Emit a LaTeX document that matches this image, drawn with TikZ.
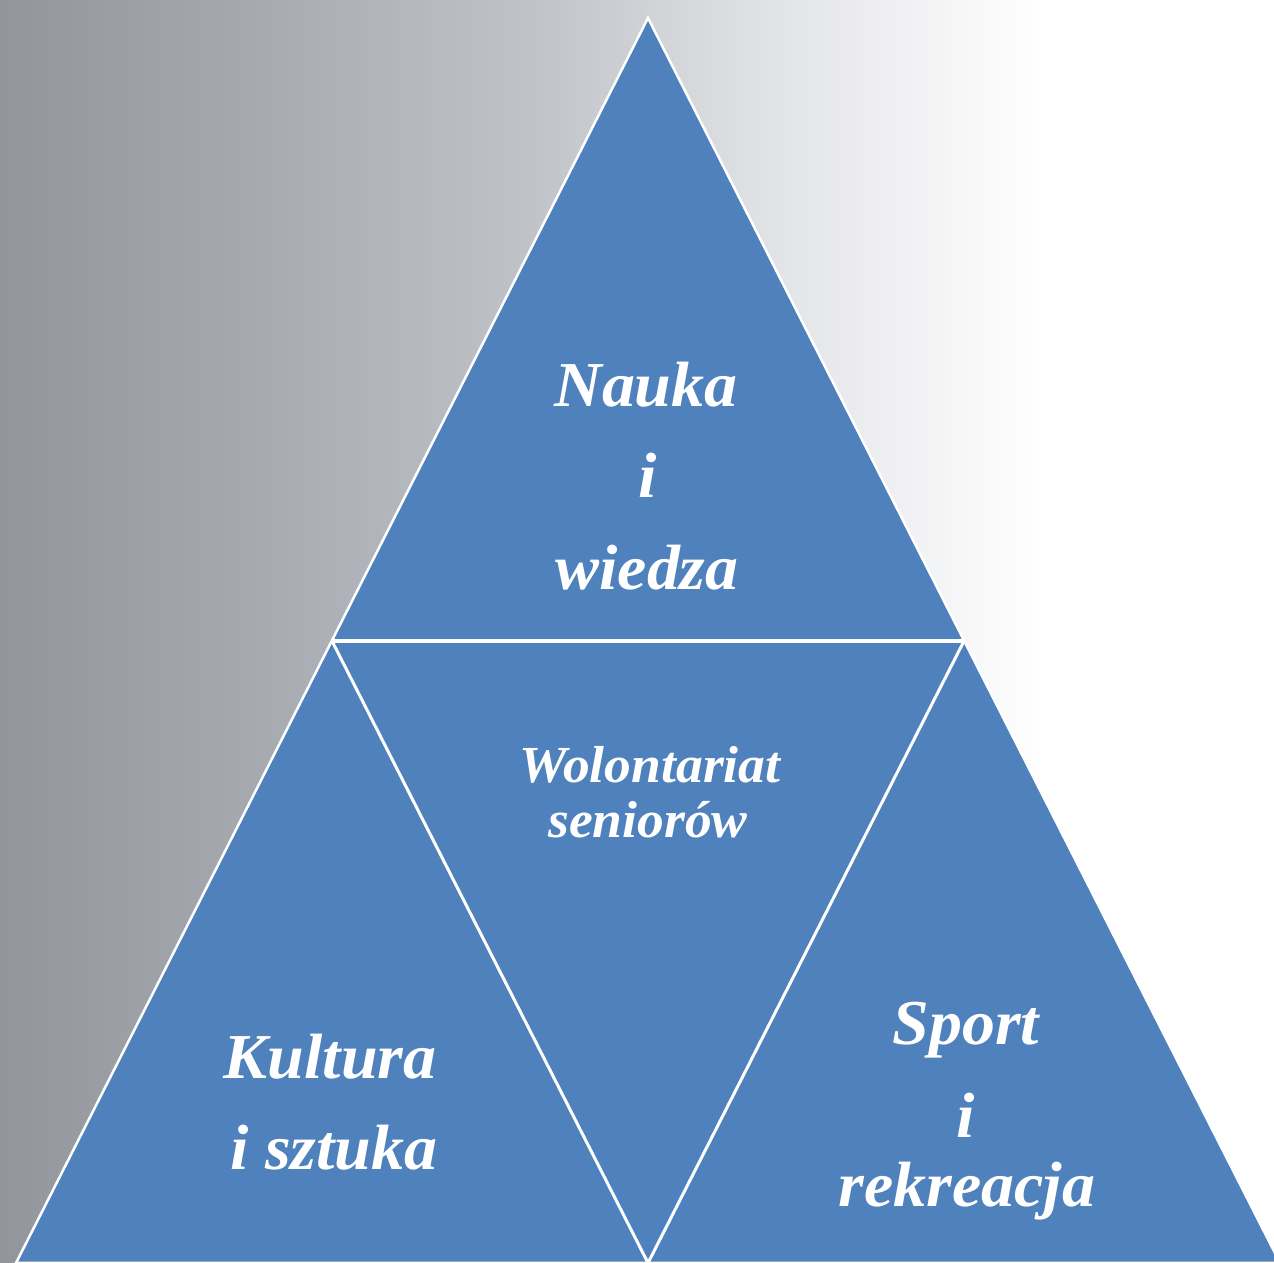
\documentclass[tikz,border=0pt]{standalone}
\usepackage{fontspec}
\setmainfont{Liberation Serif}
\newfontfamily\lblfont{Liberation Serif}[FakeStretch=1.03]
\definecolor{bgA}{RGB}{146,149,156}
\definecolor{bgB}{RGB}{166,169,176}
\definecolor{bgC}{RGB}{192,195,200}
\definecolor{bgD}{RGB}{228,229,232}
\definecolor{pyrblue}{RGB}{79,129,189}
% the middle 25bp--75bp of a shading spans the shaded path
\pgfdeclarehorizontalshading{bgshade}{100bp}{%
  color(0bp)=(bgA); color(25bp)=(bgA); color(35bp)=(bgB); color(46bp)=(bgC); color(56bp)=(bgD); color(66bp)=(white); color(100bp)=(white)}
\begin{document}
\begin{tikzpicture}[x=1pt,y=1pt,
  seg/.style={fill=pyrblue,draw=white,line width=2.5pt,line join=miter},
  divline/.style={draw=white,line width=3pt},
  biglbl/.style={text=white,inner sep=0pt,anchor=base,font=\lblfont\bfseries\itshape\fontsize{64}{64}\selectfont},
  smalllbl/.style={text=white,inner sep=0pt,anchor=base,font=\lblfont\bfseries\itshape\fontsize{52}{52}\selectfont}]
\useasboundingbox (0,0) rectangle (1274,1263);
\shade[shading=bgshade] (0,0) rectangle (1274,1263);
% corner points
\coordinate (A) at (648,1245);
\coordinate (BL) at (16,0);
\coordinate (BR) at (1280,0);
\coordinate (ML) at (332,622);
\coordinate (MR) at (964,622);
\coordinate (MB) at (648,0);
% pyramid
\path[seg] (A) -- (BL) -- (BR) -- cycle;
\draw[divline,line width=3.5pt] (ML) -- (MR);
\draw[divline] (ML) -- (MB) -- (MR);
% labels
\node[biglbl] (n1) at (646,856) {Nauka};
\node[biglbl] (n2) at (648,765) {i};
\node[biglbl] (n3) at (647,673) {wiedza};
\node[smalllbl] (w1) at (650,480) {Wolontariat};
\node[smalllbl] (w2) at (648,425) {seniorów};
\node[biglbl] (k1) at (330,184) {Kultura};
\node[biglbl] (k2) at (334,93) {i sztuka};
\node[biglbl] (s1) at (966,218) {Sport};
\node[biglbl] (s2) at (966,125) {i};
\node[biglbl] (s3) at (967,56) {rekreacja};
\end{tikzpicture}
\end{document}
